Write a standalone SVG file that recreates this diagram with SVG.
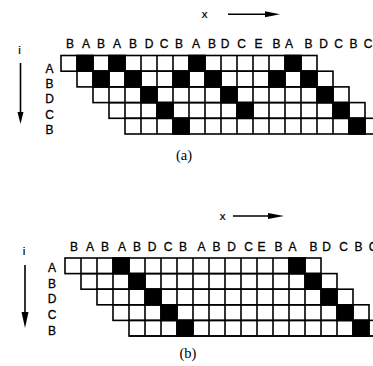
<svg xmlns="http://www.w3.org/2000/svg" width="373" height="366" viewBox="0 0 373 366">
<style>
.bg{fill:#fff}
.cell{fill:none;stroke:#000;stroke-width:1.6}
.grid{fill:none;stroke:#000;stroke-width:1.6}
.blk{fill:#000;stroke:#000;stroke-width:1.6}
.lbl{font-family:"Liberation Sans",Arial,sans-serif;font-size:12px;fill:#000;stroke:#000;stroke-width:0.3;text-anchor:middle}
.var{font-family:"Liberation Sans",Arial,sans-serif;font-size:11.5px;fill:#000;stroke:#000;stroke-width:0.2;text-anchor:middle}
.cap{font-family:"Liberation Serif","Times New Roman",serif;font-size:14.5px;fill:#000;text-anchor:middle}
.ax{stroke:#000;stroke-width:1.6;fill:none}
.ah{fill:#000;stroke:none}
</style>
<rect class="bg" x="0" y="0" width="373" height="366"/>

<g id="panel-a">
  <g id="a-axes">
    <text class="var" x="19.5" y="54">i</text>
    <line class="ax" x1="20.5" y1="63" x2="20.5" y2="113"/>
    <polygon class="ah" points="17.5,112 23.5,112 20.5,124"/>
    <text class="var" x="204.5" y="18">x</text>
    <line class="ax" x1="228" y1="14.3" x2="266" y2="14.3"/>
    <polygon class="ah" points="265,11.3 265,17.3 280,14.3"/>
  </g>
  <g id="a-header">
    <text class="lbl" x="70" y="48">B</text>
    <text class="lbl" x="86" y="48">A</text>
    <text class="lbl" x="101" y="48">B</text>
    <text class="lbl" x="117" y="48">A</text>
    <text class="lbl" x="133" y="48">B</text>
    <text class="lbl" x="149" y="48">D</text>
    <text class="lbl" x="164" y="48">C</text>
    <text class="lbl" x="179" y="48">B</text>
    <text class="lbl" x="196" y="48">A</text>
    <text class="lbl" x="212" y="48">B</text>
    <text class="lbl" x="225" y="48">D</text>
    <text class="lbl" x="241.5" y="48">C</text>
    <text class="lbl" x="258.5" y="48">E</text>
    <text class="lbl" x="276.5" y="48">B</text>
    <text class="lbl" x="289" y="48">A</text>
    <text class="lbl" x="308.5" y="48">B</text>
    <text class="lbl" x="323.5" y="48">D</text>
    <text class="lbl" x="338.5" y="48">C</text>
    <text class="lbl" x="353.5" y="48">B</text>
    <text class="lbl" x="368" y="48">C</text>
  </g>
  <g id="a-rows">
    <text class="lbl" x="49.5" y="73">A</text>
    <text class="lbl" x="49.5" y="88">B</text>
    <text class="lbl" x="49.5" y="102.7">D</text>
    <text class="lbl" x="49.5" y="119">C</text>
    <text class="lbl" x="49.5" y="133.5">B</text>
  </g>
  <g id="a-marks">
    <rect class="blk" x="77" y="55.5" width="16" height="15.7"/>
    <rect class="blk" x="109" y="55.5" width="16" height="15.7"/>
    <rect class="blk" x="189" y="55.5" width="16" height="15.7"/>
    <rect class="blk" x="285" y="55.5" width="16" height="15.7"/>
    <rect class="blk" x="93" y="71.2" width="16" height="15.7"/>
    <rect class="blk" x="125" y="71.2" width="16" height="15.7"/>
    <rect class="blk" x="173" y="71.2" width="16" height="15.7"/>
    <rect class="blk" x="205" y="71.2" width="16" height="15.7"/>
    <rect class="blk" x="269" y="71.2" width="16" height="15.7"/>
    <rect class="blk" x="301" y="71.2" width="16" height="15.7"/>
    <rect class="blk" x="141" y="86.9" width="16" height="15.7"/>
    <rect class="blk" x="221" y="86.9" width="16" height="15.7"/>
    <rect class="blk" x="317" y="86.9" width="16" height="15.7"/>
    <rect class="blk" x="157" y="102.6" width="16" height="15.7"/>
    <rect class="blk" x="237" y="102.6" width="16" height="15.7"/>
    <rect class="blk" x="333" y="102.6" width="16" height="15.7"/>
    <rect class="blk" x="173" y="118.3" width="16" height="15.7"/>
    <rect class="blk" x="349" y="118.3" width="16" height="15.7"/>
  </g>
  <g id="a-grid">
    <rect class="cell" x="61" y="55.5" width="256" height="15.7"/>
    <rect class="cell" x="77" y="71.2" width="256" height="15.7"/>
    <rect class="cell" x="93" y="86.9" width="256" height="15.7"/>
    <rect class="cell" x="109" y="102.6" width="256" height="15.7"/>
    <rect class="cell" x="125" y="118.3" width="256" height="15.7"/>
    <path class="grid" d="M77,55.5v15.7m16-15.7v15.7m16-15.7v15.7m16-15.7v15.7m16-15.7v15.7m16-15.7v15.7m16-15.7v15.7m16-15.7v15.7m16-15.7v15.7m16-15.7v15.7m16-15.7v15.7m16-15.7v15.7m16-15.7v15.7m16-15.7v15.7m16-15.7v15.7"/>
    <path class="grid" d="M93,71.2v15.7m16-15.7v15.7m16-15.7v15.7m16-15.7v15.7m16-15.7v15.7m16-15.7v15.7m16-15.7v15.7m16-15.7v15.7m16-15.7v15.7m16-15.7v15.7m16-15.7v15.7m16-15.7v15.7m16-15.7v15.7m16-15.7v15.7m16-15.7v15.7"/>
    <path class="grid" d="M109,86.9v15.7m16-15.7v15.7m16-15.7v15.7m16-15.7v15.7m16-15.7v15.7m16-15.7v15.7m16-15.7v15.7m16-15.7v15.7m16-15.7v15.7m16-15.7v15.7m16-15.7v15.7m16-15.7v15.7m16-15.7v15.7m16-15.7v15.7m16-15.7v15.7"/>
    <path class="grid" d="M125,102.6v15.7m16-15.7v15.7m16-15.7v15.7m16-15.7v15.7m16-15.7v15.7m16-15.7v15.7m16-15.7v15.7m16-15.7v15.7m16-15.7v15.7m16-15.7v15.7m16-15.7v15.7m16-15.7v15.7m16-15.7v15.7m16-15.7v15.7m16-15.7v15.7"/>
    <path class="grid" d="M141,118.3v15.7m16-15.7v15.7m16-15.7v15.7m16-15.7v15.7m16-15.7v15.7m16-15.7v15.7m16-15.7v15.7m16-15.7v15.7m16-15.7v15.7m16-15.7v15.7m16-15.7v15.7m16-15.7v15.7m16-15.7v15.7m16-15.7v15.7m16-15.7v15.7"/>
  </g>
  <text class="cap" x="184" y="160">(a)</text>
</g>

<g id="panel-b">
  <g id="b-axes">
    <text class="var" x="24" y="255">i</text>
    <line class="ax" x1="25" y1="265" x2="25" y2="313"/>
    <polygon class="ah" points="21.5,312 28.5,312 25,328"/>
    <text class="var" x="222.5" y="220">x</text>
    <line class="ax" x1="233" y1="216" x2="269" y2="216"/>
    <polygon class="ah" points="268,213 268,219 284,216"/>
  </g>
  <g id="b-header">
    <text class="lbl" x="74" y="251">B</text>
    <text class="lbl" x="90" y="251">A</text>
    <text class="lbl" x="105" y="251">B</text>
    <text class="lbl" x="122" y="251">A</text>
    <text class="lbl" x="137" y="251">B</text>
    <text class="lbl" x="152" y="251">D</text>
    <text class="lbl" x="168" y="251">C</text>
    <text class="lbl" x="183" y="251">B</text>
    <text class="lbl" x="201.5" y="251">A</text>
    <text class="lbl" x="216.5" y="251">B</text>
    <text class="lbl" x="231.5" y="251">D</text>
    <text class="lbl" x="248.5" y="251">C</text>
    <text class="lbl" x="261.5" y="251">E</text>
    <text class="lbl" x="278.5" y="251">B</text>
    <text class="lbl" x="292.5" y="251">A</text>
    <text class="lbl" x="313.5" y="251">B</text>
    <text class="lbl" x="326.5" y="251">D</text>
    <text class="lbl" x="343.5" y="251">C</text>
    <text class="lbl" x="358.5" y="251">B</text>
    <text class="lbl" x="373" y="251">C</text>
  </g>
  <g id="b-rows">
    <text class="lbl" x="52" y="272">A</text>
    <text class="lbl" x="52" y="288">B</text>
    <text class="lbl" x="52" y="303">D</text>
    <text class="lbl" x="52" y="319">C</text>
    <text class="lbl" x="52" y="334.5">B</text>
  </g>
  <g id="b-marks">
    <rect class="blk" x="113" y="258" width="16" height="15.6"/>
    <rect class="blk" x="289" y="258" width="16" height="15.6"/>
    <rect class="blk" x="129" y="273.6" width="16" height="15.6"/>
    <rect class="blk" x="305" y="273.6" width="16" height="15.6"/>
    <rect class="blk" x="145" y="289.2" width="16" height="15.6"/>
    <rect class="blk" x="321" y="289.2" width="16" height="15.6"/>
    <rect class="blk" x="161" y="304.8" width="16" height="15.6"/>
    <rect class="blk" x="337" y="304.8" width="16" height="15.6"/>
    <rect class="blk" x="177" y="320.4" width="16" height="15.6"/>
    <rect class="blk" x="353" y="320.4" width="16" height="15.6"/>
  </g>
  <g id="b-grid">
    <rect class="cell" x="65" y="258" width="256" height="15.6"/>
    <rect class="cell" x="81" y="273.6" width="256" height="15.6"/>
    <rect class="cell" x="97" y="289.2" width="256" height="15.6"/>
    <rect class="cell" x="113" y="304.8" width="256" height="15.6"/>
    <rect class="cell" x="129" y="320.4" width="256" height="15.6"/>
    <path class="grid" d="M81,258v15.6m16-15.6v15.6m16-15.6v15.6m16-15.6v15.6m16-15.6v15.6m16-15.6v15.6m16-15.6v15.6m16-15.6v15.6m16-15.6v15.6m16-15.6v15.6m16-15.6v15.6m16-15.6v15.6m16-15.6v15.6m16-15.6v15.6m16-15.6v15.6"/>
    <path class="grid" d="M97,273.6v15.6m16-15.6v15.6m16-15.6v15.6m16-15.6v15.6m16-15.6v15.6m16-15.6v15.6m16-15.6v15.6m16-15.6v15.6m16-15.6v15.6m16-15.6v15.6m16-15.6v15.6m16-15.6v15.6m16-15.6v15.6m16-15.6v15.6m16-15.6v15.6"/>
    <path class="grid" d="M113,289.2v15.6m16-15.6v15.6m16-15.6v15.6m16-15.6v15.6m16-15.6v15.6m16-15.6v15.6m16-15.6v15.6m16-15.6v15.6m16-15.6v15.6m16-15.6v15.6m16-15.6v15.6m16-15.6v15.6m16-15.6v15.6m16-15.6v15.6m16-15.6v15.6"/>
    <path class="grid" d="M129,304.8v15.6m16-15.6v15.6m16-15.6v15.6m16-15.6v15.6m16-15.6v15.6m16-15.6v15.6m16-15.6v15.6m16-15.6v15.6m16-15.6v15.6m16-15.6v15.6m16-15.6v15.6m16-15.6v15.6m16-15.6v15.6m16-15.6v15.6m16-15.6v15.6"/>
    <path class="grid" d="M145,320.4v15.6m16-15.6v15.6m16-15.6v15.6m16-15.6v15.6m16-15.6v15.6m16-15.6v15.6m16-15.6v15.6m16-15.6v15.6m16-15.6v15.6m16-15.6v15.6m16-15.6v15.6m16-15.6v15.6m16-15.6v15.6m16-15.6v15.6m16-15.6v15.6"/>
    <line class="ax" x1="129" y1="336" x2="373" y2="336" stroke-width="2.6"/>
  </g>
  <text class="cap" x="188" y="358">(b)</text>
</g>
</svg>
